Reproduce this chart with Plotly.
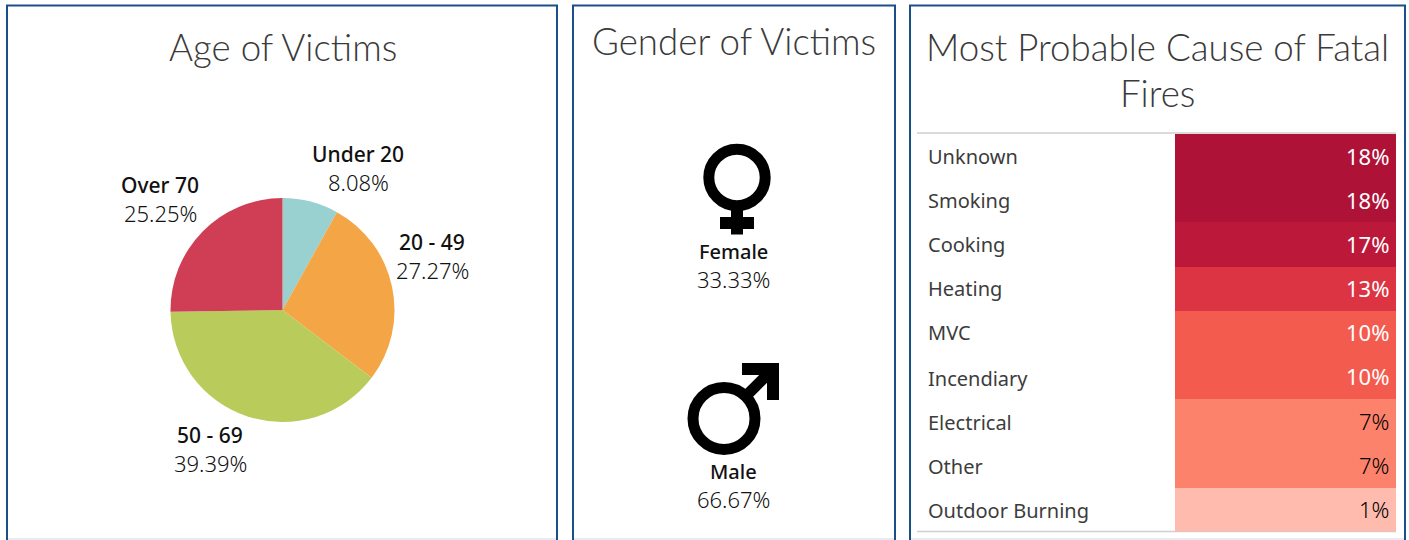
import plotly.graph_objects as go

age_groups = ["Under 20", "20 - 49", "50 - 69", "Over 70"]
age_values = [8.08, 27.27, 39.39, 25.25]
age_colors = ["#99D0D0", "#F4A646", "#B9CB5A", "#D03E55"]
genders = ["Female", "Male"]
gender_values = [33.33, 66.67]
causes = ["Unknown", "Smoking", "Cooking", "Heating", "MVC", "Incendiary", "Electrical", "Other", "Outdoor Burning"]
cause_values = [18, 18, 17, 13, 10, 10, 7, 7, 1]
cause_colors = {18: "#AE1237", 17: "#BC1839", 13: "#DC3442", 10: "#F45B4F", 7: "#FD826B", 1: "#FEBBAE"}

W, H = 1409, 540
def px(v): return v / W
def py(v): return 1 - v / H

BODY = "Noto Sans"
TITLE = "Lato"
PANEL = "#1B4F8A"

fig = go.Figure()
fig.add_trace(go.Pie(
    labels=age_groups, values=age_values, sort=False, direction="clockwise", rotation=0,
    marker=dict(colors=age_colors, line=dict(width=0)), textinfo="none", showlegend=False,
    domain=dict(x=[px(170.5), px(394.5)], y=[py(422), py(198)]),
))

lo, hi = min(cause_values), max(cause_values)
stops = sorted((((v - lo) / (hi - lo)), c) for v, c in cause_colors.items())
fig.add_trace(go.Heatmap(
    x=["share"], y=causes, z=[[v] for v in cause_values], zmin=lo, zmax=hi,
    colorscale=[[s, c] for s, c in stops], showscale=False, xgap=0, ygap=0,
))
fig.update_layout(
    width=W, height=H, margin=dict(l=0, r=0, t=0, b=0), paper_bgcolor="white", plot_bgcolor="white",
    xaxis=dict(domain=[px(1175), px(1396)], visible=False),
    yaxis=dict(domain=[py(531.6), py(134)], visible=False, autorange="reversed", type="category"),
)

def shape(**kw):
    fig.add_shape(xref="paper", yref="paper", **kw)

for x0, x1 in [(7, 557), (573, 895), (910, 1405)]:
    shape(type="line", x0=px(x0 + 1), x1=px(x1 - 1), y0=py(539), y1=py(539),
          line=dict(color="#E3E5EE", width=1.5), layer="below")
    shape(type="rect", x0=px(x0), x1=px(x1), y0=py(5.5), y1=py(560),
          line=dict(color=PANEL, width=2), layer="above")
for y in (133, 531.5):
    shape(type="line", x0=px(917), x1=px(1396), y0=py(y), y1=py(y),
          line=dict(color="#CFCFCF", width=1.5), layer="below")

# Gender icons (pictograms, not data)
ICON = dict(color="#000000", width=11)
def ring(cx, cy, r):
    shape(type="circle", x0=px(cx - r), x1=px(cx + r), y0=py(cy + r), y1=py(cy - r),
          line=ICON, fillcolor="rgba(0,0,0,0)")
def bar(x0, y0, x1, y1, width=11):
    shape(type="line", x0=px(x0), x1=px(x1), y0=py(y0), y1=py(y1), line=dict(color="#000000", width=width))
ring(737, 177.5, 28.2)
bar(737, 210, 737, 234.5, 12)
bar(720, 223, 754, 223, 12)
ring(724, 418.5, 31)
bar(745, 397, 772, 370, 11)
shape(type="path", path=f"M {px(742)} {py(363)} L {px(779)} {py(363)} L {px(779)} {py(400)} "
                        f"L {px(767)} {py(400)} L {px(767)} {py(375)} L {px(742)} {py(375)} Z",
      fillcolor="#000000", line=dict(width=0))

def text(x, y, s, size, color="#222222", family=BODY, anchor="center", weight=None):
    fig.add_annotation(xref="paper", yref="paper", x=px(x), y=py(y), text=s, showarrow=False,
                       xanchor=anchor, yanchor="middle", align=anchor,
                       font=dict(size=size, color=color, family=family, weight=weight))

text(282.5, 47, "Age of Victims", 36.7, "#3A3A3A", TITLE, weight=300)
text(734, 41.5, "Gender of Victims", 36.7, "#3A3A3A", TITLE, weight=300)
text(1157, 47, "Most Probable Cause of Fatal", 36.7, "#3A3A3A", TITLE, weight=300)
text(1157, 93, "Fires", 36.7, "#3A3A3A", TITLE, weight=300)

age_pos = [(358, 154, 181.8), (432, 242, 269.8), (210, 435, 462.8), (160, 185, 212.8)]
for g, v, (x, y1, y2) in zip(age_groups, age_values, age_pos):
    text(x, y1, g, 21, "#111111", weight=500)
    text(x, y2, f"{v:.2f}%", 22, "#111111", weight=300)

gender_pos = [(733.5, 251.5, 278.5), (733.5, 471.5, 498.5)]
for g, v, (x, y1, y2) in zip(genders, gender_values, gender_pos):
    text(x, y1, g, 20, "#111111", weight=500)
    text(x, y2, f"{v:.2f}%", 22, "#111111", weight=300)

label_y = [156.5, 200.5, 244.5, 288.5, 332.5, 378.5, 422.5, 466.5, 510.5]
pct_y = [155.5, 199.5, 243.5, 287.5, 331.5, 376, 421, 464.5, 509]
for c, v, ly, py_ in zip(causes, cause_values, label_y, pct_y):
    text(926, ly, c, 20, "#3C3C3C", anchor="left")
    text(1391, py_, f"{v}%", 22, "#FFFFFF" if v >= 10 else "#000000", anchor="right", weight=300 if v < 10 else 400)

fig.write_html("out.html", config={"displayModeBar": False}, post_script="document.body.style.margin='0';")
